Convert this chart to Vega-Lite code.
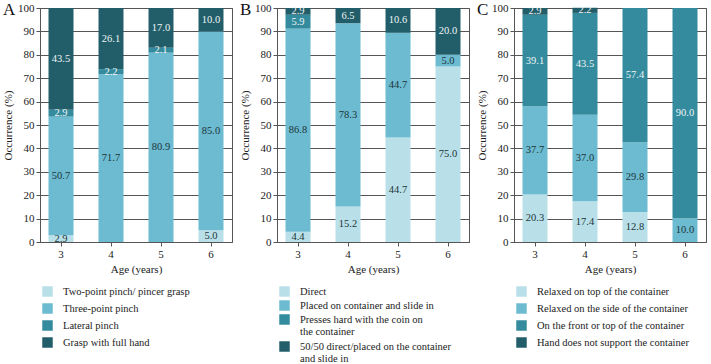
{
  "$schema": "https://vega.github.io/schema/vega-lite/v6.json",
  "padding": {"left": 2, "top": 0, "right": 1, "bottom": 0},
  "spacing": 6,
  "config": {
    "font": "Liberation Serif",
    "view": {"stroke": "#555555", "strokeWidth": 1},
    "title": {"font": "Liberation Serif", "fontSize": 17, "fontWeight": "normal", "color": "#111111"}
  },
  "resolve": {"scale": {"color": "independent"}, "legend": {"color": "independent"}},
  "datasets": {
    "A": [
      {"age": "3", "cat": "Two-point pinch/ pincer grasp", "k": 1, "v": 2.9},
      {"age": "3", "cat": "Three-point pinch", "k": 2, "v": 50.7},
      {"age": "3", "cat": "Lateral pinch", "k": 3, "v": 2.9},
      {"age": "3", "cat": "Grasp with full hand", "k": 4, "v": 43.5},
      {"age": "4", "cat": "Three-point pinch", "k": 2, "v": 71.7},
      {"age": "4", "cat": "Lateral pinch", "k": 3, "v": 2.2},
      {"age": "4", "cat": "Grasp with full hand", "k": 4, "v": 26.1},
      {"age": "5", "cat": "Three-point pinch", "k": 2, "v": 80.9},
      {"age": "5", "cat": "Lateral pinch", "k": 3, "v": 2.1},
      {"age": "5", "cat": "Grasp with full hand", "k": 4, "v": 17.0},
      {"age": "6", "cat": "Two-point pinch/ pincer grasp", "k": 1, "v": 5.0},
      {"age": "6", "cat": "Three-point pinch", "k": 2, "v": 85.0},
      {"age": "6", "cat": "Grasp with full hand", "k": 4, "v": 10.0}
    ],
    "B": [
      {"age": "3", "cat": "Direct", "k": 1, "v": 4.4},
      {"age": "3", "cat": "Placed on container and slide in", "k": 2, "v": 86.8},
      {"age": "3", "cat": "Presses hard with the coin on the container", "k": 3, "v": 5.9},
      {"age": "3", "cat": "50/50 direct/placed on the container and slide in", "k": 4, "v": 2.9},
      {"age": "4", "cat": "Direct", "k": 1, "v": 15.2},
      {"age": "4", "cat": "Placed on container and slide in", "k": 2, "v": 78.3},
      {"age": "4", "cat": "50/50 direct/placed on the container and slide in", "k": 4, "v": 6.5},
      {"age": "5", "cat": "Direct", "k": 1, "v": 44.7},
      {"age": "5", "cat": "Placed on container and slide in", "k": 2, "v": 44.7},
      {"age": "5", "cat": "50/50 direct/placed on the container and slide in", "k": 4, "v": 10.6},
      {"age": "6", "cat": "Direct", "k": 1, "v": 75.0},
      {"age": "6", "cat": "Placed on container and slide in", "k": 2, "v": 5.0},
      {"age": "6", "cat": "50/50 direct/placed on the container and slide in", "k": 4, "v": 20.0}
    ],
    "C": [
      {"age": "3", "cat": "Relaxed on top of the container", "k": 1, "v": 20.3},
      {"age": "3", "cat": "Relaxed on the side of the container", "k": 2, "v": 37.7},
      {"age": "3", "cat": "On the front or top of the container", "k": 3, "v": 39.1},
      {"age": "3", "cat": "Hand does not support the container", "k": 4, "v": 2.9},
      {"age": "4", "cat": "Relaxed on top of the container", "k": 1, "v": 17.4},
      {"age": "4", "cat": "Relaxed on the side of the container", "k": 2, "v": 37.0},
      {"age": "4", "cat": "On the front or top of the container", "k": 3, "v": 43.5},
      {"age": "4", "cat": "Hand does not support the container", "k": 4, "v": 2.2},
      {"age": "5", "cat": "Relaxed on top of the container", "k": 1, "v": 12.8},
      {"age": "5", "cat": "Relaxed on the side of the container", "k": 2, "v": 29.8},
      {"age": "5", "cat": "On the front or top of the container", "k": 3, "v": 57.4},
      {"age": "6", "cat": "Relaxed on the side of the container", "k": 2, "v": 10.0},
      {"age": "6", "cat": "On the front or top of the container", "k": 3, "v": 90.0}
    ]
  },
  "hconcat": [
    {
      "title": {"text": "A", "anchor": "start", "frame": "group", "dx": -37, "offset": -17},
      "data": {"name": "A"},
      "width": 192, "height": 234,
      "transform": [
        {"stack": "v", "groupby": ["age"], "sort": [{"field": "k", "order": "ascending"}], "as": ["y0", "y1"]},
        {"calculate": "(datum.y0 + datum.y1) / 2", "as": "mid"}
      ],
      "encoding": {
        "x": {"field": "age", "type": "ordinal", "scale": {"paddingInner": 0.5, "paddingOuter": 0.17},
          "axis": {"title": "Age (years)", "labelAngle": 0, "titlePadding": 4, "labelFont": "Liberation Serif", "labelFontSize": 11, "labelColor": "#222222", "titleFont": "Liberation Serif", "titleFontSize": 11, "titleFontWeight": "normal", "titleColor": "#222222", "domainColor": "#555555", "tickColor": "#555555", "tickSize": 4}}
      },
      "layer": [
        {
          "mark": {"type": "bar"},
          "encoding": {
            "y": {"field": "y0", "type": "quantitative", "scale": {"domain": [0, 100]},
              "axis": {"title": "Occurrence (%)", "values": [0,10,20,30,40,50,60,70,80,90,100], "labelOverlap": false, "grid": true, "gridColor": "#555555", "gridOpacity": 1, "labelFont": "Liberation Serif", "labelFontSize": 11, "labelColor": "#222222", "titleFont": "Liberation Serif", "titleFontSize": 11, "titleFontWeight": "normal", "titleColor": "#222222", "domainColor": "#555555", "tickColor": "#555555", "tickSize": 4, "titlePadding": 4}},
            "y2": {"field": "y1"},
            "color": {"field": "cat", "type": "nominal",
              "scale": {"domain": ["Two-point pinch/ pincer grasp", "Three-point pinch", "Lateral pinch", "Grasp with full hand"], "range": ["#b9e0e8", "#6cbbd1", "#338b9d", "#225e6a"]},
              "legend": {"orient": "bottom", "direction": "vertical", "title": null, "symbolType": "square", "symbolSize": 110, "symbolStrokeWidth": 0, "symbolOpacity": 1, "offset": 10, "padding": 2, "rowPadding": 6, "labelOffset": 10, "labelFont": "Liberation Serif", "labelFontSize": 10.5, "labelColor": "#222222", "labelLimit": 400}}
          }
        },
        {
          "mark": {"type": "text", "fontSize": 10.5, "font": "Liberation Serif"},
          "encoding": {
            "y": {"field": "mid", "type": "quantitative",
              "axis": {"title": "Occurrence (%)", "values": [0,10,20,30,40,50,60,70,80,90,100], "labelOverlap": false, "grid": true, "gridColor": "#555555", "gridOpacity": 1, "labelFont": "Liberation Serif", "labelFontSize": 11, "labelColor": "#222222", "titleFont": "Liberation Serif", "titleFontSize": 11, "titleFontWeight": "normal", "titleColor": "#222222", "domainColor": "#555555", "tickColor": "#555555", "tickSize": 4, "titlePadding": 4}},
            "text": {"field": "v", "type": "quantitative", "format": ".1f"},
            "color": {"condition": {"test": "datum.k >= 3", "value": "#eef5f6"}, "value": "#1d3438"}
          }
        }
      ]
    },
    {
      "title": {"text": "B", "anchor": "start", "frame": "group", "dx": -37, "offset": -17},
      "data": {"name": "B"},
      "width": 192, "height": 234,
      "transform": [
        {"stack": "v", "groupby": ["age"], "sort": [{"field": "k", "order": "ascending"}], "as": ["y0", "y1"]},
        {"calculate": "(datum.y0 + datum.y1) / 2", "as": "mid"}
      ],
      "encoding": {
        "x": {"field": "age", "type": "ordinal", "scale": {"paddingInner": 0.5, "paddingOuter": 0.17},
          "axis": {"title": "Age (years)", "labelAngle": 0, "titlePadding": 4, "labelFont": "Liberation Serif", "labelFontSize": 11, "labelColor": "#222222", "titleFont": "Liberation Serif", "titleFontSize": 11, "titleFontWeight": "normal", "titleColor": "#222222", "domainColor": "#555555", "tickColor": "#555555", "tickSize": 4}}
      },
      "layer": [
        {
          "mark": {"type": "bar"},
          "encoding": {
            "y": {"field": "y0", "type": "quantitative", "scale": {"domain": [0, 100]},
              "axis": {"title": "Occurrence (%)", "values": [0,10,20,30,40,50,60,70,80,90,100], "labelOverlap": false, "grid": true, "gridColor": "#555555", "gridOpacity": 1, "labelFont": "Liberation Serif", "labelFontSize": 11, "labelColor": "#222222", "titleFont": "Liberation Serif", "titleFontSize": 11, "titleFontWeight": "normal", "titleColor": "#222222", "domainColor": "#555555", "tickColor": "#555555", "tickSize": 4, "titlePadding": 4}},
            "y2": {"field": "y1"},
            "color": {"field": "cat", "type": "nominal",
              "scale": {"domain": ["Direct", "Placed on container and slide in", "Presses hard with the coin on the container", "50/50 direct/placed on the container and slide in"], "range": ["#b9e0e8", "#6cbbd1", "#338b9d", "#225e6a"]},
              "legend": {"orient": "bottom", "direction": "vertical", "title": null, "symbolType": "square", "symbolSize": 110, "symbolStrokeWidth": 0, "symbolOpacity": 1, "offset": 10, "padding": 2, "rowPadding": 3, "labelOffset": 10, "labelFont": "Liberation Serif", "labelFontSize": 10.5, "labelColor": "#222222", "labelLimit": 400,
                "labelExpr": "datum.label == 'Presses hard with the coin on the container' ? ['Presses hard with the coin on', 'the container'] : datum.label == '50/50 direct/placed on the container and slide in' ? ['50/50 direct/placed on the container', 'and slide in'] : datum.label"}}
          }
        },
        {
          "mark": {"type": "text", "fontSize": 10.5, "font": "Liberation Serif"},
          "encoding": {
            "y": {"field": "mid", "type": "quantitative",
              "axis": {"title": "Occurrence (%)", "values": [0,10,20,30,40,50,60,70,80,90,100], "labelOverlap": false, "grid": true, "gridColor": "#555555", "gridOpacity": 1, "labelFont": "Liberation Serif", "labelFontSize": 11, "labelColor": "#222222", "titleFont": "Liberation Serif", "titleFontSize": 11, "titleFontWeight": "normal", "titleColor": "#222222", "domainColor": "#555555", "tickColor": "#555555", "tickSize": 4, "titlePadding": 4}},
            "text": {"field": "v", "type": "quantitative", "format": ".1f"},
            "color": {"condition": {"test": "datum.k >= 3", "value": "#eef5f6"}, "value": "#1d3438"}
          }
        }
      ]
    },
    {
      "title": {"text": "C", "anchor": "start", "frame": "group", "dx": -37, "offset": -17},
      "data": {"name": "C"},
      "width": 192, "height": 234,
      "transform": [
        {"stack": "v", "groupby": ["age"], "sort": [{"field": "k", "order": "ascending"}], "as": ["y0", "y1"]},
        {"calculate": "(datum.y0 + datum.y1) / 2", "as": "mid"}
      ],
      "encoding": {
        "x": {"field": "age", "type": "ordinal", "scale": {"paddingInner": 0.5, "paddingOuter": 0.17},
          "axis": {"title": "Age (years)", "labelAngle": 0, "titlePadding": 4, "labelFont": "Liberation Serif", "labelFontSize": 11, "labelColor": "#222222", "titleFont": "Liberation Serif", "titleFontSize": 11, "titleFontWeight": "normal", "titleColor": "#222222", "domainColor": "#555555", "tickColor": "#555555", "tickSize": 4}}
      },
      "layer": [
        {
          "mark": {"type": "bar"},
          "encoding": {
            "y": {"field": "y0", "type": "quantitative", "scale": {"domain": [0, 100]},
              "axis": {"title": "Occurrence (%)", "values": [0,10,20,30,40,50,60,70,80,90,100], "labelOverlap": false, "grid": true, "gridColor": "#555555", "gridOpacity": 1, "labelFont": "Liberation Serif", "labelFontSize": 11, "labelColor": "#222222", "titleFont": "Liberation Serif", "titleFontSize": 11, "titleFontWeight": "normal", "titleColor": "#222222", "domainColor": "#555555", "tickColor": "#555555", "tickSize": 4, "titlePadding": 4}},
            "y2": {"field": "y1"},
            "color": {"field": "cat", "type": "nominal",
              "scale": {"domain": ["Relaxed on top of the container", "Relaxed on the side of the container", "On the front or top of the container", "Hand does not support the container"], "range": ["#b9e0e8", "#6cbbd1", "#338b9d", "#225e6a"]},
              "legend": {"orient": "bottom", "direction": "vertical", "title": null, "symbolType": "square", "symbolSize": 110, "symbolStrokeWidth": 0, "symbolOpacity": 1, "offset": 10, "padding": 2, "rowPadding": 6, "labelOffset": 10, "labelFont": "Liberation Serif", "labelFontSize": 10.5, "labelColor": "#222222", "labelLimit": 400}}
          }
        },
        {
          "mark": {"type": "text", "fontSize": 10.5, "font": "Liberation Serif"},
          "encoding": {
            "y": {"field": "mid", "type": "quantitative",
              "axis": {"title": "Occurrence (%)", "values": [0,10,20,30,40,50,60,70,80,90,100], "labelOverlap": false, "grid": true, "gridColor": "#555555", "gridOpacity": 1, "labelFont": "Liberation Serif", "labelFontSize": 11, "labelColor": "#222222", "titleFont": "Liberation Serif", "titleFontSize": 11, "titleFontWeight": "normal", "titleColor": "#222222", "domainColor": "#555555", "tickColor": "#555555", "tickSize": 4, "titlePadding": 4}},
            "text": {"field": "v", "type": "quantitative", "format": ".1f"},
            "color": {"condition": {"test": "datum.k >= 3", "value": "#eef5f6"}, "value": "#1d3438"}
          }
        }
      ]
    }
  ]
}
